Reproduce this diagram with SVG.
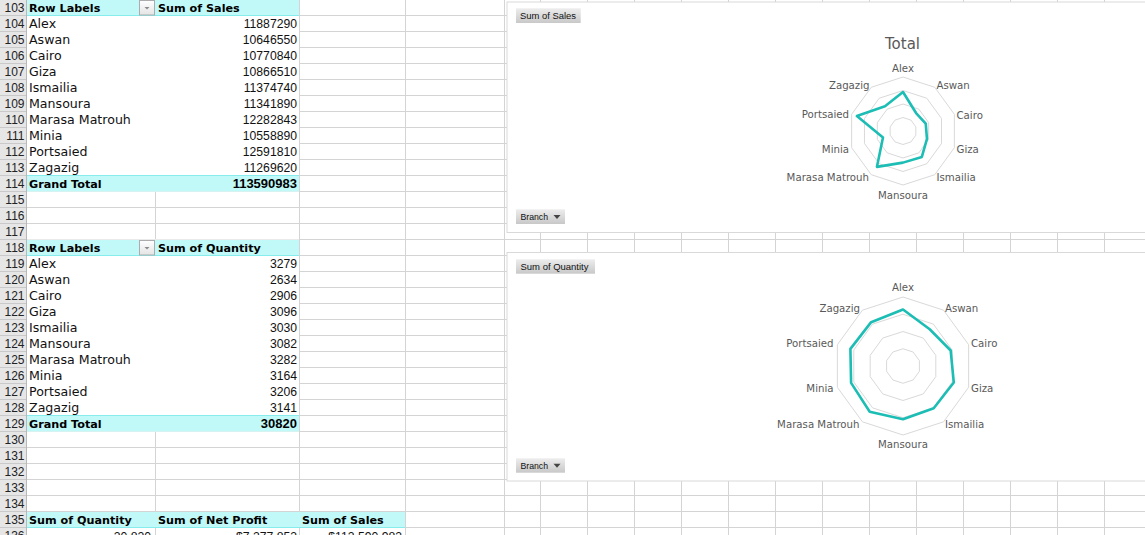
<svg xmlns="http://www.w3.org/2000/svg" width="1145" height="535" viewBox="0 0 1145 535">
<style>
.grid{stroke:#d4d4d4;stroke-width:1;fill:none}
.hdrsep{stroke:#c9c9c9;stroke-width:1;fill:none}
.rn{font-family:"Liberation Sans",Arial,sans-serif;font-size:12px;fill:#222;text-anchor:end}
.name{font-family:"DejaVu Sans",sans-serif;font-size:12.6px;fill:#111}
.num{font-family:"Liberation Sans",Arial,sans-serif;font-size:12.2px;fill:#111;text-anchor:end}
.bh{font-family:"DejaVu Sans",sans-serif;font-size:11.2px;font-weight:bold;fill:#000}
.bn{font-family:"Liberation Sans",Arial,sans-serif;font-size:13px;font-weight:bold;fill:#000;text-anchor:end}
.cyan{fill:#c1f9f8}
.cyanline{stroke:#86ecec;stroke-width:1;fill:none}
.chartbox{fill:#fff;stroke:#d9d9d9;stroke-width:1}
.btn{fill:url(#btnGrad)}
.btxt{font-family:"Liberation Sans",Arial,sans-serif;font-size:9.6px;fill:#111}
.ring{fill:none;stroke:#d9d9d9;stroke-width:1}
.data{fill:none;stroke:#1cbdb4;stroke-width:2.6;stroke-linejoin:round}
.lbl{font-family:"DejaVu Sans",sans-serif;font-size:10.2px;fill:#595959}
.s{text-anchor:start}.m{text-anchor:middle}.e{text-anchor:end}
</style>
<defs>
<linearGradient id="btnGrad" x1="0" y1="0" x2="0" y2="1">
<stop offset="0" stop-color="#ededed"/>
<stop offset="1" stop-color="#c8c8c8"/>
</linearGradient>
<linearGradient id="ddGrad" x1="0" y1="0" x2="0" y2="1">
<stop offset="0" stop-color="#ffffff"/>
<stop offset="1" stop-color="#e4e4e4"/>
</linearGradient>
</defs>
<rect x="0" y="0" width="1145" height="535" fill="#ffffff"/>
<g id="grid">
<path class="grid" d="M26 15.5H1145M26 31.5H1145M26 47.5H1145M26 63.5H1145M26 79.5H1145M26 95.5H1145M26 111.5H1145M26 127.5H1145M26 143.5H1145M26 159.5H1145M26 175.5H1145M26 191.5H1145M26 207.5H1145M26 223.5H1145M26 239.5H1145M26 255.5H1145M26 271.5H1145M26 287.5H1145M26 303.5H1145M26 319.5H1145M26 335.5H1145M26 351.5H1145M26 367.5H1145M26 383.5H1145M26 399.5H1145M26 415.5H1145M26 431.5H1145M26 447.5H1145M26 463.5H1145M26 479.5H1145M26 495.5H1145M26 511.5H1145M26 527.5H1145"/>
<path class="grid" d="M155.5 0V535M299.5 0V535M405.5 0V535M504.5 0V535M540.5 0V535M587.5 0V535M634.5 0V535M681.5 0V535M728.5 0V535M775.5 0V535M822.5 0V535M869.5 0V535M916.5 0V535M963.5 0V535M1010.5 0V535M1057.5 0V535M1104.5 0V535"/>
</g>
<g id="row-headers">
<rect x="0" y="0" width="26" height="535" fill="#e6e6e6"/>
<path class="hdrsep" d="M0 15.5H26M0 31.5H26M0 47.5H26M0 63.5H26M0 79.5H26M0 95.5H26M0 111.5H26M0 127.5H26M0 143.5H26M0 159.5H26M0 175.5H26M0 191.5H26M0 207.5H26M0 223.5H26M0 239.5H26M0 255.5H26M0 271.5H26M0 287.5H26M0 303.5H26M0 319.5H26M0 335.5H26M0 351.5H26M0 367.5H26M0 383.5H26M0 399.5H26M0 415.5H26M0 431.5H26M0 447.5H26M0 463.5H26M0 479.5H26M0 495.5H26M0 511.5H26M0 527.5H26"/>
<path d="M26.5 0V535" stroke="#b8b8b8" stroke-width="1"/>
<text class="rn" x="24.5" y="12">103</text>
<text class="rn" x="24.5" y="28">104</text>
<text class="rn" x="24.5" y="44">105</text>
<text class="rn" x="24.5" y="60">106</text>
<text class="rn" x="24.5" y="76">107</text>
<text class="rn" x="24.5" y="92">108</text>
<text class="rn" x="24.5" y="108">109</text>
<text class="rn" x="24.5" y="124">110</text>
<text class="rn" x="24.5" y="140">111</text>
<text class="rn" x="24.5" y="156">112</text>
<text class="rn" x="24.5" y="172">113</text>
<text class="rn" x="24.5" y="188">114</text>
<text class="rn" x="24.5" y="204">115</text>
<text class="rn" x="24.5" y="220">116</text>
<text class="rn" x="24.5" y="236">117</text>
<text class="rn" x="24.5" y="252">118</text>
<text class="rn" x="24.5" y="268">119</text>
<text class="rn" x="24.5" y="284">120</text>
<text class="rn" x="24.5" y="300">121</text>
<text class="rn" x="24.5" y="316">122</text>
<text class="rn" x="24.5" y="332">123</text>
<text class="rn" x="24.5" y="348">124</text>
<text class="rn" x="24.5" y="364">125</text>
<text class="rn" x="24.5" y="380">126</text>
<text class="rn" x="24.5" y="396">127</text>
<text class="rn" x="24.5" y="412">128</text>
<text class="rn" x="24.5" y="428">129</text>
<text class="rn" x="24.5" y="444">130</text>
<text class="rn" x="24.5" y="460">131</text>
<text class="rn" x="24.5" y="476">132</text>
<text class="rn" x="24.5" y="492">133</text>
<text class="rn" x="24.5" y="508">134</text>
<text class="rn" x="24.5" y="524">135</text>
<text class="rn" x="24.5" y="540">136</text>
</g>
<g id="pivot-sales">
<rect x="27" y="0" width="272" height="191.5" fill="#fff"/>
<rect class="cyan" x="27" y="0" width="272" height="15.5"/>
<rect class="cyan" x="27" y="175.5" width="272" height="16"/>
<path class="cyanline" d="M27 15.5H299M27 175.5H299"/>
<rect x="139.5" y="0.5" width="15" height="14.5" fill="url(#ddGrad)" stroke="#acacac"/>
<polygon points="144.5,7 149.5,7 147,9.5" fill="#8a8a8a"/>
<text class="bh" x="29" y="12.3">Row Labels</text>
<text class="bh" x="158" y="12.3">Sum of Sales</text>
<text class="name" x="29" y="28.3">Alex</text><text class="num" x="297" y="28.3">11887290</text>
<text class="name" x="29" y="44.3">Aswan</text><text class="num" x="297" y="44.3">10646550</text>
<text class="name" x="29" y="60.3">Cairo</text><text class="num" x="297" y="60.3">10770840</text>
<text class="name" x="29" y="76.3">Giza</text><text class="num" x="297" y="76.3">10866510</text>
<text class="name" x="29" y="92.3">Ismailia</text><text class="num" x="297" y="92.3">11374740</text>
<text class="name" x="29" y="108.3">Mansoura</text><text class="num" x="297" y="108.3">11341890</text>
<text class="name" x="29" y="124.3">Marasa Matrouh</text><text class="num" x="297" y="124.3">12282843</text>
<text class="name" x="29" y="140.3">Minia</text><text class="num" x="297" y="140.3">10558890</text>
<text class="name" x="29" y="156.3">Portsaied</text><text class="num" x="297" y="156.3">12591810</text>
<text class="name" x="29" y="172.3">Zagazig</text><text class="num" x="297" y="172.3">11269620</text>
<text class="bh" x="29" y="188.3">Grand Total</text><text class="bn" x="297" y="188.3">113590983</text>
</g>
<g id="pivot-quantity">
<rect x="27" y="239.5" width="272" height="192" fill="#fff"/>
<rect class="cyan" x="27" y="240" width="272" height="15.5"/>
<rect class="cyan" x="27" y="415.5" width="272" height="16"/>
<path class="cyanline" d="M27 255.5H299M27 415.5H299"/>
<rect x="139.5" y="240.5" width="15" height="14.5" fill="url(#ddGrad)" stroke="#acacac"/>
<polygon points="144.5,247 149.5,247 147,249.5" fill="#8a8a8a"/>
<text class="bh" x="29" y="252.3">Row Labels</text>
<text class="bh" x="158" y="252.3">Sum of Quantity</text>
<text class="name" x="29" y="268.3">Alex</text><text class="num" x="297" y="268.3">3279</text>
<text class="name" x="29" y="284.3">Aswan</text><text class="num" x="297" y="284.3">2634</text>
<text class="name" x="29" y="300.3">Cairo</text><text class="num" x="297" y="300.3">2906</text>
<text class="name" x="29" y="316.3">Giza</text><text class="num" x="297" y="316.3">3096</text>
<text class="name" x="29" y="332.3">Ismailia</text><text class="num" x="297" y="332.3">3030</text>
<text class="name" x="29" y="348.3">Mansoura</text><text class="num" x="297" y="348.3">3082</text>
<text class="name" x="29" y="364.3">Marasa Matrouh</text><text class="num" x="297" y="364.3">3282</text>
<text class="name" x="29" y="380.3">Minia</text><text class="num" x="297" y="380.3">3164</text>
<text class="name" x="29" y="396.3">Portsaied</text><text class="num" x="297" y="396.3">3206</text>
<text class="name" x="29" y="412.3">Zagazig</text><text class="num" x="297" y="412.3">3141</text>
<text class="bh" x="29" y="428.3">Grand Total</text><text class="bn" x="297" y="428.3">30820</text>
</g>
<g id="summary">
<rect class="cyan" x="27" y="512" width="378" height="15.5"/>
<path class="cyanline" d="M27 527.5H405"/>
<text class="bh" x="29" y="524.3">Sum of Quantity</text>
<text class="bh" x="158" y="524.3">Sum of Net Profit</text>
<text class="bh" x="302" y="524.3">Sum of Sales</text>
<text class="num" x="151" y="540.5">30,820</text>
<text class="num" x="297" y="540.5">$7,277,853</text>
<text class="num" x="402" y="540.5">$113,590,983</text>
</g>
<g id="chart-sales">
<rect class="chartbox" x="507" y="2" width="660" height="230.5"/>
<rect class="btn" x="516" y="8.3" width="64.7" height="14.7"/>
<text class="btxt" x="520" y="19" textLength="56" lengthAdjust="spacingAndGlyphs">Sum of Sales</text>
<rect class="btn" x="516" y="209.3" width="49" height="14.7"/>
<text class="btxt" x="520.5" y="220" textLength="27.5" lengthAdjust="spacingAndGlyphs">Branch</text>
<polygon points="553.5,215 560.5,215 557,219" fill="#444"/>
<text x="902.5" y="48.5" style="font-family:'DejaVu Sans',sans-serif;font-size:15px;fill:#595959;text-anchor:middle">Total</text>
<polygon class="ring" points="903,77 934.74,87.31 954.36,114.31 954.36,147.69 934.74,174.69 903,185 871.26,174.69 851.64,147.69 851.64,114.31 871.26,87.31"/>
<polygon class="ring" points="903,90.5 926.81,98.24 941.52,118.49 941.52,143.51 926.81,163.76 903,171.5 879.19,163.76 864.48,143.51 864.48,118.49 879.19,98.24"/>
<polygon class="ring" points="903,104 918.87,109.16 928.68,122.66 928.68,139.34 918.87,152.84 903,158 887.13,152.84 877.32,139.34 877.32,122.66 887.13,109.16"/>
<polygon class="ring" points="903,117.5 910.94,120.08 915.84,126.83 915.84,135.17 910.94,141.92 903,144.5 895.06,141.92 890.16,135.17 890.16,126.83 895.06,120.08"/>
<polygon class="data" points="903,92.02 916.07,113.02 925.74,123.61 926.97,138.79 921.84,156.94 903,162.62 876.95,166.85 882.98,137.5 856.88,116.02 884.99,106.21"/>
<text class="lbl m" x="903" y="72">Alex</text>
<text class="lbl s" x="936.5" y="89.4">Aswan</text>
<text class="lbl s" x="956.5" y="118.6">Cairo</text>
<text class="lbl s" x="956.5" y="153">Giza</text>
<text class="lbl s" x="936.5" y="181.4">Ismailia</text>
<text class="lbl m" x="903" y="198.7">Mansoura</text>
<text class="lbl e" x="869" y="181.4">Marasa Matrouh</text>
<text class="lbl e" x="849" y="153">Minia</text>
<text class="lbl e" x="849" y="118.3">Portsaied</text>
<text class="lbl e" x="869.5" y="89.4">Zagazig</text>
</g>
<g id="chart-quantity">
<rect class="chartbox" x="507" y="252.5" width="660" height="228.5"/>
<rect class="btn" x="516" y="259.3" width="79" height="14.4"/>
<text class="btxt" x="520.5" y="269.8" textLength="68" lengthAdjust="spacingAndGlyphs">Sum of Quantity</text>
<rect class="btn" x="516" y="458.3" width="49" height="14.4"/>
<text class="btxt" x="520.5" y="468.9" textLength="27.5" lengthAdjust="spacingAndGlyphs">Branch</text>
<polygon points="553.5,463.8 560.5,463.8 557,467.8" fill="#444"/>
<polygon class="ring" points="903,297 943.56,310.18 968.63,344.68 968.63,387.32 943.56,421.82 903,435 862.44,421.82 837.37,387.32 837.37,344.68 862.44,310.18"/>
<polygon class="ring" points="903,314.25 933.42,324.13 952.22,350.01 952.22,381.99 933.42,407.87 903,417.75 872.58,407.87 853.78,381.99 853.78,350.01 872.58,324.13"/>
<polygon class="ring" points="903,331.5 923.28,338.09 935.81,355.34 935.81,376.66 923.28,393.91 903,400.5 882.72,393.91 870.19,376.66 870.19,355.34 882.72,338.09"/>
<polygon class="ring" points="903,348.75 913.14,352.04 919.41,360.67 919.41,371.33 913.14,379.96 903,383.25 892.86,379.96 886.59,371.33 886.59,360.67 892.86,352.04"/>
<polygon class="data" points="903,309.44 929.71,329.24 950.68,350.51 953.8,382.5 933.72,408.29 903,419.16 869.72,411.8 851.09,382.87 850.4,348.91 871.15,322.17"/>
<text class="lbl m" x="903" y="291.4">Alex</text>
<text class="lbl s" x="945" y="312">Aswan</text>
<text class="lbl s" x="971" y="347">Cairo</text>
<text class="lbl s" x="971" y="392">Giza</text>
<text class="lbl s" x="945" y="427.7">Ismailia</text>
<text class="lbl m" x="903" y="447.7">Mansoura</text>
<text class="lbl e" x="859.5" y="427.7">Marasa Matrouh</text>
<text class="lbl e" x="833.5" y="392">Minia</text>
<text class="lbl e" x="833.5" y="347">Portsaied</text>
<text class="lbl e" x="860" y="312">Zagazig</text>
</g>
</svg>
